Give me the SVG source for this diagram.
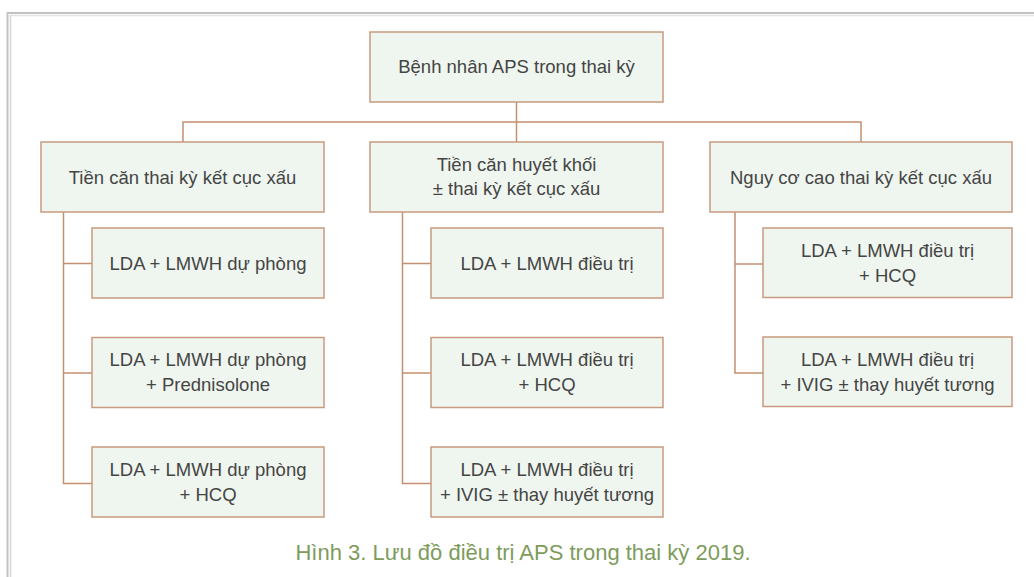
<svg xmlns="http://www.w3.org/2000/svg" width="1034" height="577" viewBox="0 0 1034 577">
<style>
.box{fill:#eff6ef;stroke:#c99a7f;stroke-width:1.5}
.t{font-family:"Liberation Sans",Arial,sans-serif;font-size:18.5px;fill:#454545;text-anchor:middle}
.c{fill:none;stroke:#c4906f;stroke-width:1.5}
.cap{font-family:"Liberation Sans",Arial,sans-serif;font-size:22px;fill:#7d9c5c;text-anchor:middle}
</style>
<rect width="1034" height="577" fill="#ffffff"/>
<g id="frame">
<line x1="7.5" y1="13" x2="1034" y2="13" stroke="#c2c2c2" stroke-width="2"/>
<line x1="10.5" y1="15.5" x2="1034" y2="15.5" stroke="#e2e2e2" stroke-width="1.5"/>
<line x1="7.5" y1="12" x2="7.5" y2="577" stroke="#c2c2c2" stroke-width="2"/>
<line x1="10.5" y1="15" x2="10.5" y2="577" stroke="#d6d6d6" stroke-width="1.5"/>
</g>
<g id="connectors">
<path class="c" d="M516.5 102V142M183 142V122H861V142"/>
<path class="c" d="M63.5 212V483.5H92M63.5 263.5H92M63.5 373H92"/>
<path class="c" d="M402.5 212V483.5H431M402.5 263.5H431M402.5 373H431"/>
<path class="c" d="M735 212V373H763M735 264H763"/>
</g>
<g id="root"><rect class="box" x="370" y="32" width="293" height="70"/><text class="t" x="516.5" y="73">Bệnh nhân APS trong thai kỳ</text></g>
<g id="n1"><rect class="box" x="41" y="142" width="283" height="70"/><text class="t" x="182.5" y="183.5">Tiền căn thai kỳ kết cục xấu</text></g>
<g id="n2"><rect class="box" x="370" y="142" width="293" height="70"/><text class="t" x="516.5" y="170.5">Tiền căn huyết khối</text><text class="t" x="516.5" y="195">± thai kỳ kết cục xấu</text></g>
<g id="n3"><rect class="box" x="710" y="142" width="302" height="70"/><text class="t" x="861" y="183.5">Nguy cơ cao thai kỳ kết cục xấu</text></g>
<g id="n1a"><rect class="box" x="92" y="228" width="232" height="70"/><text class="t" x="208" y="269.5">LDA + LMWH dự phòng</text></g>
<g id="n1b"><rect class="box" x="92" y="337.5" width="232" height="70"/><text class="t" x="208" y="366">LDA + LMWH dự phòng</text><text class="t" x="208" y="391">+ Prednisolone</text></g>
<g id="n1c"><rect class="box" x="92" y="447" width="232" height="70"/><text class="t" x="208" y="476">LDA + LMWH dự phòng</text><text class="t" x="208" y="501">+ HCQ</text></g>
<g id="n2a"><rect class="box" x="431" y="228" width="232" height="70"/><text class="t" x="547" y="269.5">LDA + LMWH điều trị</text></g>
<g id="n2b"><rect class="box" x="431" y="337.5" width="232" height="70"/><text class="t" x="547" y="366">LDA + LMWH điều trị</text><text class="t" x="547" y="391">+ HCQ</text></g>
<g id="n2c"><rect class="box" x="431" y="447" width="232" height="70"/><text class="t" x="547" y="476">LDA + LMWH điều trị</text><text class="t" x="547" y="501">+ IVIG ± thay huyết tương</text></g>
<g id="n3a"><rect class="box" x="763" y="228" width="249" height="69.5"/><text class="t" x="887.5" y="257">LDA + LMWH điều trị</text><text class="t" x="887.5" y="282">+ HCQ</text></g>
<g id="n3b"><rect class="box" x="763" y="337" width="249" height="69.5"/><text class="t" x="887.5" y="366">LDA + LMWH điều trị</text><text class="t" x="887.5" y="391">+ IVIG ± thay huyết tương</text></g>
<text class="cap" x="523" y="560">Hình 3. Lưu đồ điều trị APS trong thai kỳ 2019.</text>
</svg>
